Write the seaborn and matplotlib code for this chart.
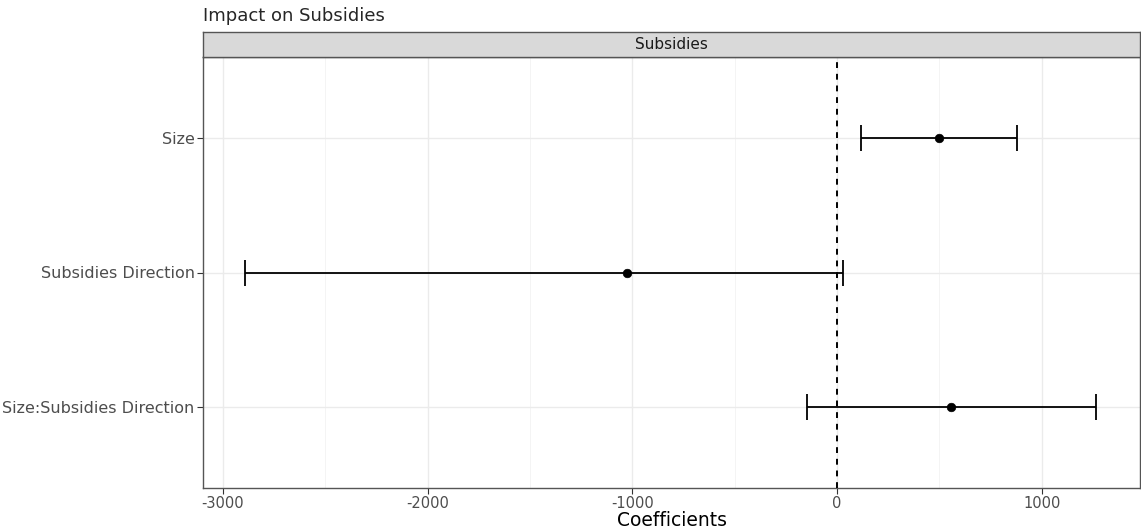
import pandas as pd
import matplotlib
matplotlib.use('Agg')
import matplotlib.pyplot as plt
import seaborn as sns

# 계수 데이터
terms = ['Size', 'Subsidies Direction', 'Size:Subsidies Direction']
estimate = [500, -1026, 557]
ci_low = [115, -2892, -148]
ci_high = [878, 31, 1265]

df = pd.DataFrame({'term': terms, 'estimate': estimate, 'low': ci_low, 'high': ci_high})
df['ypos'] = range(len(df))

sns.set_theme(style='white')
plt.rcParams['font.family'] = ['DejaVu Sans']

fig = plt.figure(figsize=(11.41, 5.29), dpi=100)
W, H = 1141, 529
ax = fig.add_axes([203 / W, (H - 488) / H, (1140 - 203) / W, (488 - 57) / H])
strip = fig.add_axes([203 / W, (H - 57) / H, (1140 - 203) / W, (57 - 32) / H])

# 그리드
for v in [-3000, -2000, -1000, 0, 1000]:
    ax.axvline(v, color='#EBEBEB', lw=1.0, zorder=0)
for v in [-2500, -1500, -500, 500]:
    ax.axvline(v, color='#F2F2F2', lw=0.6, zorder=0)
for y in df['ypos']:
    ax.axhline(y, color='#EBEBEB', lw=1.0, zorder=0)

ax.errorbar(df['estimate'], df['ypos'],
            xerr=[df['estimate'] - df['low'], df['high'] - df['estimate']],
            fmt='none', ecolor='black', elinewidth=1.3, capsize=9.5, capthick=1.3, zorder=2)
sns.scatterplot(data=df, x='estimate', y='ypos', color='black', s=38, edgecolor='black',
                ax=ax, zorder=3, legend=False)
ax.axvline(0, color='black', lw=1.4, ls=(0, (3, 3)), zorder=4)

ax.set_xlim(-3097, 1480)
ax.set_ylim(2.6, -0.6)
ax.set_yticks(df['ypos'])
ax.set_yticklabels(terms)
ax.set_xticks([-3000, -2000, -1000, 0, 1000])
ax.set_xticklabels(['-3000', '-2000', '-1000', '0', '1000'])
ax.tick_params(axis='both', colors='#333333', labelcolor='#4D4D4D',
               length=4, width=0.8, left=True, bottom=True, pad=2)
ax.tick_params(axis='x', labelsize=10.5)
ax.tick_params(axis='y', labelsize=11.5)
ax.set_xlabel('Coefficients', fontsize=13.5, color='black', labelpad=0)
ax.set_ylabel('')
for s in ax.spines.values():
    s.set_color('#555555')
    s.set_linewidth(1.0)

strip.set_facecolor('#D9D9D9')
strip.set_xticks([])
strip.set_yticks([])
for s in strip.spines.values():
    s.set_color('#555555')
    s.set_linewidth(1.0)
strip.text(0.5, 0.5, 'Subsidies', ha='center', va='center', fontsize=11, color='#1A1A1A',
           transform=strip.transAxes)

fig.text(203 / W, 1 - 16 / H, 'Impact on Subsidies', fontsize=13, ha='left', va='center')

fig.savefig('out.png', dpi=100)
